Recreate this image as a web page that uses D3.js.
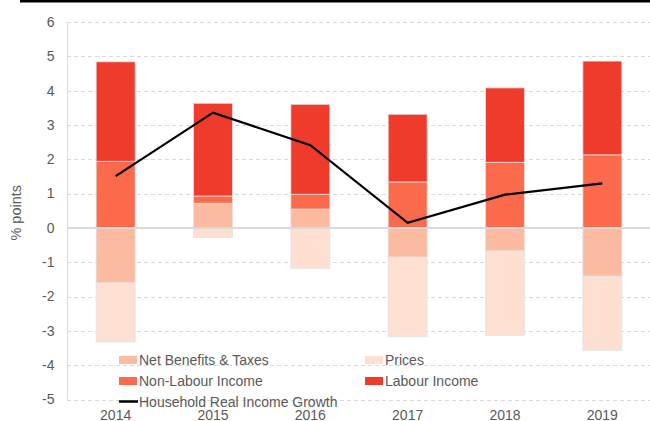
<!DOCTYPE html>
<html>
<head>
<meta charset="utf-8">
<script src="https://cdn.jsdelivr.net/npm/d3@7"></script>
<style>
  html, body { margin: 0; padding: 0; background: #fff; }
  svg { display: block; font-family: "Liberation Sans", Arial, sans-serif; }
</style>
</head>
<body>
<svg id="chart" width="650" height="421"></svg>
<script>
// Contributions to household real income growth, % points
const years = ["2014", "2015", "2016", "2017", "2018", "2019"];
const netBenefits = [-1.60, 0.72, 0.55, -0.85, -0.67, -1.41];
const prices = [-1.72, -0.28, -1.18, -2.32, -2.46, -2.16];
const nonLabour = [1.94, 0.21, 0.43, 1.34, 1.91, 2.13];
const labour = [2.90, 2.70, 2.62, 1.97, 2.17, 2.73];
const realIncomeGrowth = [1.51, 3.36, 2.41, 0.15, 0.97, 1.30];
const yTicks = [6, 5, 4, 3, 2, 1, 0, -1, -2, -3, -4, -5];

const seriesKeys = ["Net Benefits & Taxes", "Prices", "Non-Labour Income", "Labour Income"];
const seriesValues = [netBenefits, prices, nonLabour, labour];
const colors = {
  "Net Benefits & Taxes": "#FCBBA1",
  "Prices": "#FEE0D2",
  "Non-Labour Income": "#FB6A4A",
  "Labour Income": "#EF3B2C"
};

const rows = years.map((y, i) => {
  const r = { year: y };
  seriesKeys.forEach((k, j) => { r[k] = seriesValues[j][i]; });
  return r;
});

const svg = d3.select("#chart");
const left = 67, right = 651;

const x = d3.scaleBand().domain(years).range([left, right])
  .paddingInner(0.6).paddingOuter(0.3);
const y = d3.scaleLinear().domain([-5, 6]).range([399.5, 22]);

// top rule
svg.append("rect").attr("x", 20).attr("y", 0).attr("width", 630).attr("height", 2.5).attr("fill", "#000");

// dashed gridlines
svg.append("g").selectAll("line").data(yTicks.filter(t => t !== 0)).join("line")
  .attr("x1", left).attr("x2", 650)
  .attr("y1", d => Math.round(y(d)) + 0.5).attr("y2", d => Math.round(y(d)) + 0.5)
  .attr("stroke", "#d9d9d9").attr("stroke-width", 1).attr("stroke-dasharray", "4,3");

// vertical axis line
svg.append("line").attr("x1", left + 0.5).attr("x2", left + 0.5)
  .attr("y1", y(6)).attr("y2", y(-5)).attr("stroke", "#d9d9d9").attr("stroke-width", 1);

// y tick labels
svg.append("g").selectAll("text").data(yTicks).join("text")
  .attr("x", 54.5).attr("y", d => y(d))
  .attr("dy", "0.35em").attr("text-anchor", "end")
  .attr("font-size", 14).attr("fill", "#595959")
  .text(d => d);

// y axis title
svg.append("text")
  .attr("transform", `translate(20.5,${(y(6) + y(-5)) / 2 + 2}) rotate(-90)`)
  .attr("text-anchor", "middle").attr("font-size", 14.5).attr("fill", "#595959")
  .text("% points");

// stacked bars (diverging)
const stack = d3.stack().keys(seriesKeys).offset(d3.stackOffsetDiverging).order(d3.stackOrderNone);
const stacked = stack(rows);

svg.append("g").selectAll("g").data(stacked).join("g")
  .attr("fill", d => colors[d.key])
  .selectAll("rect").data(d => d).join("rect")
  .attr("x", d => x(d.data.year))
  .attr("width", x.bandwidth())
  .attr("y", d => y(Math.max(d[0], d[1])))
  .attr("height", d => Math.abs(y(d[0]) - y(d[1])))
  .attr("stroke", "rgba(225,225,225,0.75)")
  .attr("stroke-width", 1);

// zero line
svg.append("line").attr("x1", left).attr("x2", 650)
  .attr("y1", y(0)).attr("y2", y(0))
  .attr("stroke", "#d9d9d9").attr("stroke-width", 2);

// real income growth line
const line = d3.line()
  .x((d, i) => x(years[i]) + x.bandwidth() / 2)
  .y(d => y(d));
svg.append("path").datum(realIncomeGrowth)
  .attr("d", line).attr("fill", "none")
  .attr("stroke", "#000").attr("stroke-width", 2.2);

// x labels
svg.append("g").selectAll("text").data(years).join("text")
  .attr("x", d => x(d) + x.bandwidth() / 2).attr("y", 420)
  .attr("text-anchor", "middle").attr("font-size", 14).attr("fill", "#595959")
  .text(d => d);

// legend
const legendItems = [
  { key: "Net Benefits & Taxes", col: 0, row: 0, type: "rect" },
  { key: "Prices", col: 1, row: 0, type: "rect" },
  { key: "Non-Labour Income", col: 0, row: 1, type: "rect" },
  { key: "Labour Income", col: 1, row: 1, type: "rect" },
  { key: "Household Real Income Growth", col: 0, row: 2, type: "line" }
];
const colX = [119, 365];
const rowY = [360, 381, 401.5];
const lg = svg.append("g").selectAll("g").data(legendItems).join("g")
  .attr("transform", d => `translate(${colX[d.col]},${rowY[d.row]})`);
lg.filter(d => d.type === "rect").append("rect")
  .attr("x", 0).attr("y", -4).attr("width", 18).attr("height", 8)
  .attr("fill", d => colors[d.key]);
lg.filter(d => d.type === "line").append("line")
  .attr("x1", 0).attr("x2", 19).attr("y1", 0).attr("y2", 0)
  .attr("stroke", "#000").attr("stroke-width", 2.5);
lg.append("text")
  .attr("x", 20).attr("y", 5)
  .attr("font-size", 14).attr("fill", "#595959")
  .text(d => d.key);
</script>
</body>
</html>
